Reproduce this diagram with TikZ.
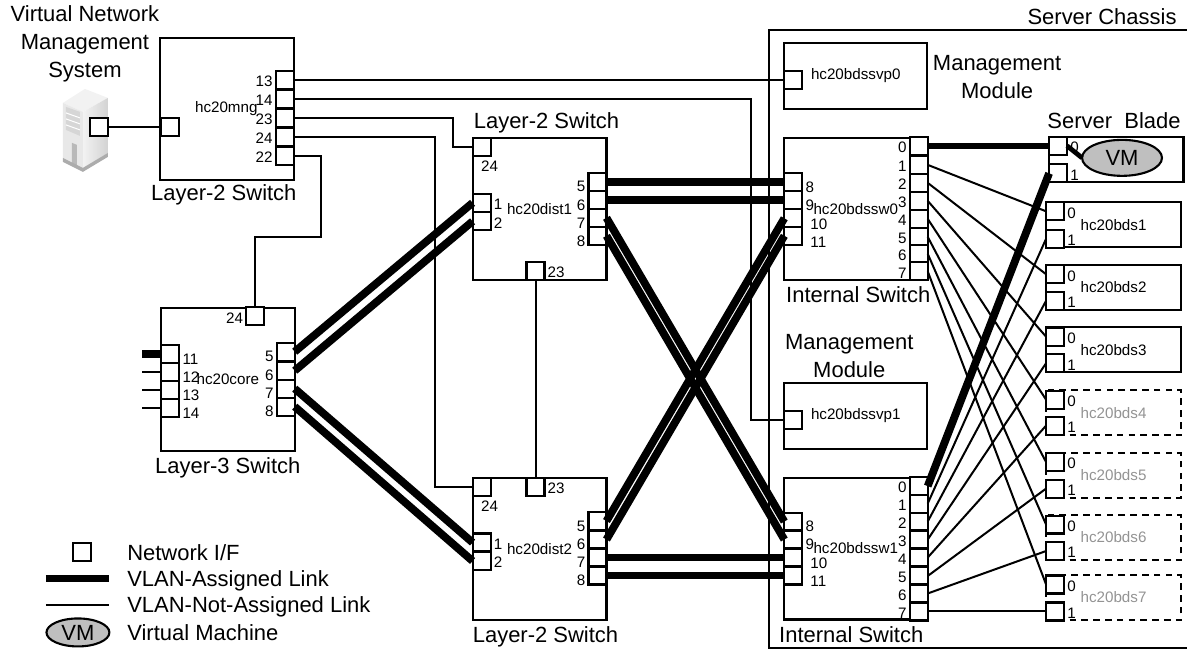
\documentclass[tikz,border=0pt]{standalone}
\usepackage{fontspec}
\setmainfont{Liberation Sans}
\usetikzlibrary{shapes.geometric}

\begin{document}
\begin{tikzpicture}[
  x=0.5pt, y=-0.5pt,
  caption/.style={font=\fontsize{11}{13.5}\selectfont, align=center, inner sep=0pt},
  numtxt/.style={font=\fontsize{7.6}{9}\selectfont, inner sep=1.4pt},
  swbox/.style={draw, line width=1.05pt, outer sep=0pt, minimum width=67pt, minimum height=71pt, font=\fontsize{7.6}{9}\selectfont},
  modbox/.style={swbox, minimum width=71.5pt, minimum height=33pt},
  intbox/.style={swbox, minimum width=71.5pt},
  bladebox/.style={swbox, minimum width=67.5pt, minimum height=22.5pt},
  offblade/.style={bladebox, dash pattern=on 3.3pt off 2.6pt, text=gray!85},
  port/.style={draw, line width=1.05pt, fill=white, outer sep=0pt, inner sep=0pt, minimum size=9pt},
  pl/.style={label={[numtxt,yshift=-0.8pt]left:#1}},
  pr/.style={label={[numtxt,yshift=-0.8pt]right:#1}},
  plo/.style={label={[numtxt,yshift=-2.5pt]left:#1}},
  pro/.style={label={[numtxt,yshift=-2.5pt]right:#1}},
  prw/.style={label={[numtxt,xshift=2.5pt,yshift=-3pt]right:#1}},
  vm/.style={draw, line width=1.05pt, ellipse, fill=gray!50, outer sep=0pt, inner sep=0pt, font=\fontsize{11}{13}\selectfont},
  plain/.style={line width=1pt},
  vlan/.style={line width=3.9pt}
]
  \fill[gray!10] (63,103) -- (85,89) -- (108,98) -- (83,112) -- cycle;
  \shade[left color=gray!10, right color=gray!35] (83,112) -- (108,98) -- (108,153) -- (83,168) -- cycle;
  \fill[gray!18] (63,103) -- (83,112) -- (83,168) -- (63,158) -- cycle;
  \fill[gray!32] (66,107) -- (80,112) -- (80,136) -- (66,130) -- cycle;
  \draw[white, line width=0.5pt] (66,113) -- (80,118) (66,119) -- (80,124) (66,125) -- (80,130);
  \fill[gray!55] (72,143) -- (77,145) -- (77,168) -- (72,166) -- cycle;
  \fill[gray!65] (63,158) -- (83,168) -- (108,153) -- (108,157) -- (83,172) -- (63,162) -- cycle;

  \draw[line width=1.05pt] (1188,30) -| (770,649) -- (1188,649);

  \node[swbox] (mng) at (227.5,109) {\hspace{-1pt}hc20mng};
  \node[swbox, minimum height=71.5pt] (core) at (228,379.5) {hc20core};
  \node[swbox] (dist1) at (540,209) {hc20dist1};
  \node[swbox] (dist2) at (540,549.5) {hc20dist2};
  \node[modbox] (svp0) at (856.5,76) {hc20bdssvp0};
  \node[modbox] (svp1) at (856.5,416) {hc20bdssvp1};
  \node[intbox] (sw0) at (856.5,209) {hc20bdssw0};
  \node[intbox] (sw1) at (856.5,549) {hc20bdssw1};
  \node[bladebox] (blade0) at (1117,159.5) {};
  \node[bladebox] (bds1) at (1114.5,225) {hc20bds1};
  \node[bladebox] (bds2) at (1114.5,287.5) {hc20bds2};
  \node[bladebox] (bds3) at (1114.5,350) {hc20bds3};
  \node[offblade] (bds4) at (1114.5,413) {hc20bds4};
  \node[offblade] (bds5) at (1114.5,475.5) {hc20bds5};
  \node[offblade] (bds6) at (1114.5,538) {hc20bds6};
  \node[offblade] (bds7) at (1114.5,598) {hc20bds7};

  \node[caption] (nmslabel) at (85,44) {Virtual Network\\[0.4pt]Management\\[0.4pt]System};
  \node[caption] (mnglabel) at (224,195) {Layer-2 Switch};
  \node[caption] (corelabel) at (228,468) {Layer-3 Switch};
  \node[caption] (dist1label) at (547,123) {Layer-2 Switch};
  \node[caption] (dist2label) at (546,637) {Layer-2 Switch};
  \node[caption, anchor=east] (chassislabel) at (1178,17) {Server Chassis};
  \node[caption] (mod0label) at (998,77) {Management\\[0.4pt]Module};
  \node[caption] (mod1label) at (850,356) {Management\\[0.4pt]Module};
  \node[caption] (sw0label) at (859,295) {Internal Switch};
  \node[caption] (sw1label) at (852,635) {Internal Switch};
  \node[caption] (bladelabel) at (1115,121) {Server\ \ Blade};

  \node[port] (nmsp) at (99,127) {};
  \node[port] (mngin) at (170,127) {};
  \node[port, pl=13] (mng13) at (285,80) {};
  \node[port, pl=14] (mng14) at (285,99) {};
  \node[port, pl=23] (mng23) at (285,118) {};
  \node[port, pl=24] (mng24) at (285,137) {};
  \node[port, pl=22] (mng22) at (285,156) {};

  \node[port, pl=24] (core24) at (255.5,316.5) {};
  \node[port, pro=11] (core11) at (170.5,354.5) {};
  \node[port, pro=12] (core12) at (170.5,372.5) {};
  \node[port, pro=13] (core13) at (170.5,390.5) {};
  \node[port, pro=14] (core14) at (170.5,408.5) {};
  \node[port, plo=5] (core5) at (286,352) {};
  \node[port, plo=6] (core6) at (286,371) {};
  \node[port, plo=7] (core7) at (286,389) {};
  \node[port, plo=8] (core8) at (286,407) {};

  \node[port, label={[numtxt,xshift=4pt,yshift=-1pt]below:24}] (dist124) at (482,147) {};
  \node[port, pr=1] (dist11) at (482,203) {};
  \node[port, pr=2] (dist12) at (482,221.5) {};
  \node[port, pr=23] (dist123) at (536,271) {};
  \node[port, plo=5] (dist15) at (598,182) {};
  \node[port, plo=6] (dist16) at (598,200) {};
  \node[port, plo=7] (dist17) at (598,218) {};
  \node[port, plo=8] (dist18) at (598,236) {};

  \node[port, label={[numtxt,xshift=4pt,yshift=-1pt]below:24}] (dist224) at (482,487) {};
  \node[port, pr=23] (dist223) at (536,487) {};
  \node[port, pr=1] (dist21) at (482,543) {};
  \node[port, pr=2] (dist22) at (482,561.5) {};
  \node[port, plo=5] (dist25) at (598,521.5) {};
  \node[port, plo=6] (dist26) at (598,540) {};
  \node[port, plo=7] (dist27) at (598,558) {};
  \node[port, plo=8] (dist28) at (598,576) {};

  \node[port] (vp0) at (794,80) {};
  \node[port] (vp1) at (794,420.5) {};

  \node[port, pl=0] (sw00) at (919.5,146) {};
  \node[port, pl=1] (sw01) at (919.5,165) {};
  \node[port, pl=2] (sw02) at (919.5,183) {};
  \node[port, pl=3] (sw03) at (919.5,201) {};
  \node[port, pl=4] (sw04) at (919.5,219) {};
  \node[port, pl=5] (sw05) at (919.5,237) {};
  \node[port, pl=6] (sw06) at (919.5,254) {};
  \node[port, pl=7] (sw07) at (919.5,271.5) {};
  \node[port, pro=8] (sw08) at (794,182) {};
  \node[port, pro=9] (sw09) at (794,200) {};
  \node[port, prw=10] (sw010) at (794,218.5) {};
  \node[port, prw=11] (sw011) at (794,236) {};

  \node[port, pl=0] (sw10) at (919.5,486.5) {};
  \node[port, pl=1] (sw11) at (919.5,504) {};
  \node[port, pl=2] (sw12) at (919.5,522) {};
  \node[port, pl=3] (sw13) at (919.5,540) {};
  \node[port, pl=4] (sw14) at (919.5,558) {};
  \node[port, pl=5] (sw15) at (919.5,576.5) {};
  \node[port, pl=6] (sw16) at (919.5,594) {};
  \node[port, pl=7] (sw17) at (919.5,612) {};
  \node[port, pro=8] (sw18) at (794,522) {};
  \node[port, pro=9] (sw19) at (794,540) {};
  \node[port, prw=10] (sw110) at (794,558) {};
  \node[port, prw=11] (sw111) at (794,576) {};

  \node[port, pr=0] (blade0p0) at (1059,146) {};
  \node[port, pr=1] (blade0p1) at (1059,173.5) {};
  \node[port, pr=0] (bds1p0) at (1056,211.5) {};
  \node[port, pr=1] (bds1p1) at (1056,239) {};
  \node[port, pr=0] (bds2p0) at (1056,274.5) {};
  \node[port, pr=1] (bds2p1) at (1056,301) {};
  \node[port, pr=0] (bds3p0) at (1056,337) {};
  \node[port, pr=1] (bds3p1) at (1056,363.5) {};
  \node[port, pr=0] (bds4p0) at (1056,400) {};
  \node[port, pr=1] (bds4p1) at (1056,426) {};
  \node[port, pr=0] (bds5p0) at (1056,462.5) {};
  \node[port, pr=1] (bds5p1) at (1056,489) {};
  \node[port, pr=0] (bds6p0) at (1056,525) {};
  \node[port, pr=1] (bds6p1) at (1056,551.5) {};
  \node[port, pr=0] (bds7p0) at (1056,585) {};
  \node[port, pr=1] (bds7p1) at (1056,612) {};

  \node[vm, minimum width=40pt, minimum height=18pt] (vmguest) at (1123,158) {VM};

  \coordinate (bend14) at (752,99);
  \coordinate (bend23) at (453,118);
  \coordinate (bend24) at (435,137);
  \coordinate (bend22) at (321,237);
  \coordinate (stub11) at (142,354.5);
  \coordinate (stub12) at (142,372.5);
  \coordinate (stub13) at (142,390.5);
  \coordinate (stub14) at (142,408.5);

  \draw[plain] (nmsp.east) -- (mngin.west);
  \draw[plain] (mng13.east) -- (vp0.west);
  \draw[plain] (mng14.east) -- (bend14) |- (vp1.west);
  \draw[plain] (mng23.east) -- (bend23) |- (dist124.west);
  \draw[plain] (mng24.east) -- (bend24) |- (dist224.west);
  \draw[plain] (mng22.east) -| (bend22) -| (core24.north);
  \draw[plain] (dist123.south) -- (dist223.north);
  \draw[vlan] (core11.west) -- (stub11);
  \draw[plain] (core12.west) -- (stub12);
  \draw[plain] (core13.west) -- (stub13);
  \draw[plain] (core14.west) -- (stub14);

  \draw[plain] (sw01.east) -- (bds1p0.west);
  \draw[plain] (sw02.east) -- (bds2p0.west);
  \draw[plain] (sw03.east) -- (bds3p0.west);
  \draw[plain] (sw04.east) -- (bds4p0.west);
  \draw[plain] (sw05.east) -- (bds5p0.west);
  \draw[plain] (sw06.east) -- (bds6p0.west);
  \draw[plain] (sw07.east) -- (bds7p0.west);
  \draw[plain] (sw11.east) -- (bds1p1.west);
  \draw[plain] (sw12.east) -- (bds2p1.west);
  \draw[plain] (sw13.east) -- (bds3p1.west);
  \draw[plain] (sw14.east) -- (bds4p1.west);
  \draw[plain] (sw15.east) -- (bds5p1.west);
  \draw[plain] (sw16.east) -- (bds6p1.west);
  \draw[plain] (sw17.east) -- (bds7p1.west);

  \draw[vlan] (core5.east) -- (dist11.west);
  \draw[vlan] (core6.east) -- (dist12.west);
  \draw[vlan] (core7.east) -- (dist21.west);
  \draw[vlan] (core8.east) -- (dist22.west);
  \draw[vlan] (dist15.east) -- (sw08.west);
  \draw[vlan] (dist16.east) -- (sw09.west);
  \draw[vlan] (dist17.east) -- (sw18.west);
  \draw[vlan] (dist18.east) -- (sw19.west);
  \draw[vlan] (dist25.east) -- (sw010.west);
  \draw[vlan] (dist26.east) -- (sw011.west);
  \draw[vlan] (dist27.east) -- (sw110.west);
  \draw[vlan] (dist28.east) -- (sw111.west);
  \draw[line width=3pt] (sw00.east) -- (blade0p0.west);
  \draw[vlan] (sw10.east) -- (blade0p1.west);
  \draw[line width=2.4pt] (blade0p0.east) -- (vmguest.west);

  \node[port] (lgport) at (82.5,552.5) {};
  \coordinate (lgthick0) at (46,579);
  \coordinate (lgthick1) at (109,579);
  \coordinate (lgthin0) at (46,605.5);
  \coordinate (lgthin1) at (109,605.5);
  \draw[vlan] (lgthick0) -- (lgthick1);
  \draw[plain] (lgthin0) -- (lgthin1);
  \node[vm, minimum width=31.5pt, minimum height=14pt] (lgvm) at (78,633) {VM};
  \node[caption, anchor=west] (lgporttxt) at (127,553) {Network I/F};
  \node[caption, anchor=west] (lgthicktxt) at (127,581) {VLAN-Assigned Link};
  \node[caption, anchor=west] (lgthintxt) at (127,607) {VLAN-Not-Assigned Link};
  \node[caption, anchor=west] (lgvmtxt) at (127,633) {Virtual Machine};

  \useasboundingbox (0,0) rectangle (1188,650);
\end{tikzpicture}
\end{document}
